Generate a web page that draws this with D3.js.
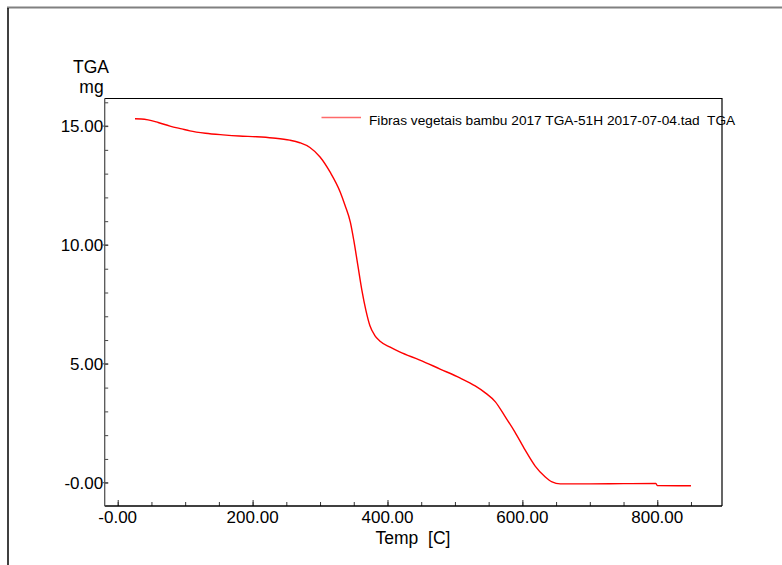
<!DOCTYPE html>
<html><head><meta charset="utf-8">
<script src="https://cdn.jsdelivr.net/npm/d3@7"></script>
<style>body{margin:0;background:#fff;}svg{display:block;font-family:"Liberation Sans",Arial,sans-serif;}svg text{white-space:pre;}</style>
</head><body>
<svg id="c" width="782" height="565"></svg>
<script>
// ---- data ----
const temp = [25.6, 35, 45, 60, 77.5, 95, 107, 130, 156, 180, 206, 230, 255, 270, 285, 300, 315, 330, 337, 345, 350, 356, 362, 368, 374, 381, 389, 404, 418, 448, 478, 508, 530, 545, 560, 574, 589, 604, 619, 634, 644, 656, 700, 750, 798, 800, 850];
const mass = [15.31, 15.30, 15.26, 15.15, 15.0, 14.88, 14.8, 14.7, 14.63, 14.58, 14.55, 14.5, 14.41, 14.3, 14.1, 13.7, 13.06, 12.22, 11.67, 10.95, 10.2, 9.15, 8.1, 7.25, 6.6, 6.2, 5.95, 5.7, 5.5, 5.16, 4.78, 4.4, 4.07, 3.78, 3.4, 2.8, 2.13, 1.38, 0.7, 0.24, 0.03, -0.05, -0.05, -0.04, -0.03, -0.12, -0.13];
const xTickValues = [0, 200, 400, 600, 800];
const xTickLabels = ["-0.00", "200.00", "400.00", "600.00", "800.00"];
const xMinorTicks = d3.range(0, 851, 50);
const yTickValues = [0, 5, 10, 15];
const yTickLabels = ["-0.00", "5.00", "10.00", "15.00"];
const yMinorTicks = d3.range(0, 17, 1);
const seriesName = "Fibras vegetais bambu 2017 TGA-51H 2017-07-04.tad  TGA";
const xTitle = "Temp  [C]";
const yTitle = ["TGA", "mg"];

// ---- layout ----
const svg = d3.select("#c");
const L = 104.7, R = 722, T = 98.5, B = 506;
const x = d3.scaleLinear().domain([-19.3, 896]).range([L, R]);
const y = d3.scaleLinear().domain([-0.98, 16.16]).range([B, T]);

// outer frame
svg.append("line").attr("x1", 7).attr("x2", 782).attr("y1", 7.5).attr("y2", 7.5).attr("stroke", "#808080").attr("stroke-width", 2);
svg.append("line").attr("x1", 8).attr("x2", 8).attr("y1", 8).attr("y2", 565).attr("stroke", "#000").attr("stroke-width", 1.5);

// plot frame (top, right)
svg.append("path").attr("d", `M${L},${T}H${R}V${B}`).attr("fill", "none").attr("stroke", "#000").attr("stroke-width", 1.2);

// x axis
const gx = svg.append("g").attr("transform", `translate(0,${B})`);
gx.call(d3.axisBottom(x).tickValues(xMinorTicks).tickSizeInner(-4).tickSizeOuter(0).tickFormat(""));
gx.append("g").call(d3.axisBottom(x).tickValues(xTickValues).tickSizeInner(-6).tickSizeOuter(0).tickFormat(""));
gx.selectAll(".domain").remove();
gx.selectAll("line").attr("stroke", "#333").attr("stroke-width", 1);
svg.append("line").attr("x1", L).attr("x2", R).attr("y1", B).attr("y2", B).attr("stroke", "#000").attr("stroke-width", 1.3);
svg.append("g").selectAll("text").data(xTickValues).join("text")
  .attr("x", d => x(d)).attr("y", 523).attr("text-anchor", "middle")
  .attr("font-size", 17).attr("fill", "#000").text((d, i) => xTickLabels[i]);

// y axis
const gy = svg.append("g").attr("transform", `translate(${L},0)`);
gy.call(d3.axisLeft(y).tickValues(yMinorTicks).tickSizeInner(-3.5).tickSizeOuter(0).tickFormat(""));
gy.selectAll(".domain").remove();
gy.selectAll("line").attr("stroke", "#444").attr("stroke-width", 1);
svg.append("g").selectAll("line").data(yTickValues).join("line")
  .attr("x1", L - 2).attr("x2", L + 3.5).attr("y1", d => y(d)).attr("y2", d => y(d))
  .attr("stroke", "#444").attr("stroke-width", 1);
svg.append("line").attr("x1", L).attr("x2", L).attr("y1", T).attr("y2", B).attr("stroke", "#555").attr("stroke-width", 1.3);
svg.append("g").selectAll("text").data(yTickValues).join("text")
  .attr("x", L - 1.5).attr("y", d => y(d)).attr("dy", "0.36em").attr("text-anchor", "end")
  .attr("font-size", 17).attr("fill", "#000").text((d, i) => yTickLabels[i]);

// titles
svg.append("text").attr("x", 413).attr("y", 544).attr("text-anchor", "middle").attr("font-size", 17.5).text(xTitle);
svg.append("text").attr("x", 91).attr("y", 72.5).attr("text-anchor", "middle").attr("font-size", 17.5).text(yTitle[0]);
svg.append("text").attr("x", 91.5).attr("y", 92.5).attr("text-anchor", "middle").attr("font-size", 17.5).text(yTitle[1]);

// curve
const data = temp.map((t, i) => [t, mass[i]]);
svg.append("path").datum(data)
  .attr("d", d3.line().x(d => x(d[0])).y(d => y(d[1])).curve(d3.curveMonotoneX))
  .attr("fill", "none").attr("stroke", "#ff0000").attr("stroke-width", 1.4);

// legend
svg.append("line").attr("x1", 321.5).attr("x2", 361).attr("y1", 117.5).attr("y2", 117.5).attr("stroke", "#ff6a6a").attr("stroke-width", 1.5);
svg.append("text").attr("x", 369).attr("y", 124.5).attr("font-size", 13.7).attr("fill", "#000").text(seriesName);
</script>
</body></html>
